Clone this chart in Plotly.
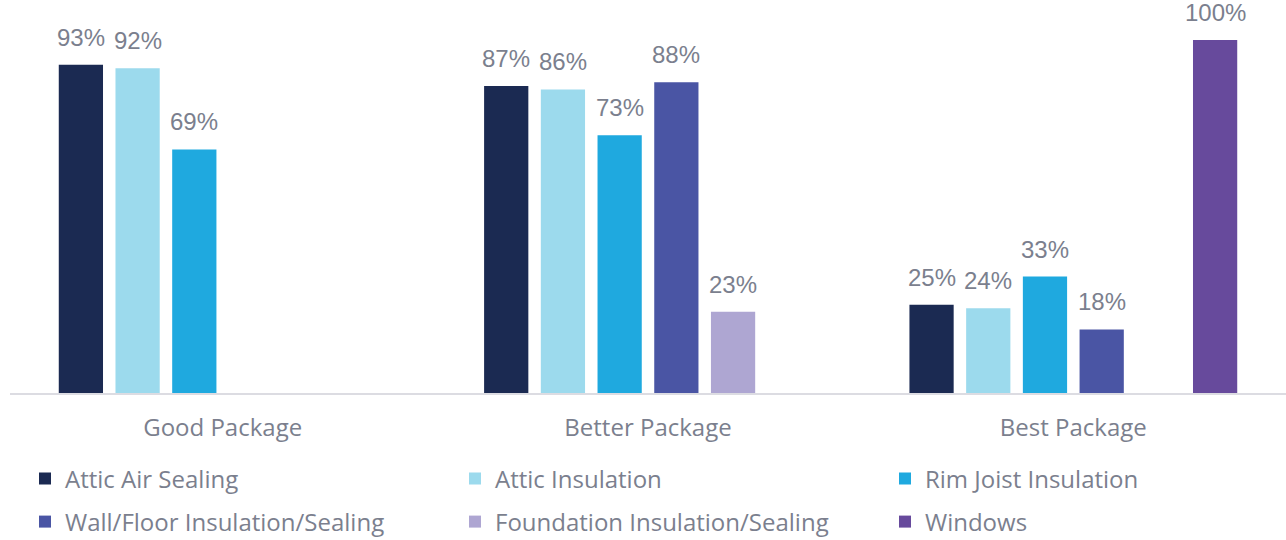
import plotly.graph_objects as go

categories = ["Good Package", "Better Package", "Best Package"]
series_names = ["Attic Air Sealing", "Attic Insulation", "Rim Joist Insulation",
                "Wall/Floor Insulation/Sealing", "Foundation Insulation/Sealing", "Windows"]
attic_air_sealing = [93, 87, 25]
attic_insulation = [92, 86, 24]
rim_joist_insulation = [69, 73, 33]
wall_floor_insulation = [None, 88, 18]
foundation_insulation = [None, 23, None]
windows = [None, None, 100]
series_values = [attic_air_sealing, attic_insulation, rim_joist_insulation,
                 wall_floor_insulation, foundation_insulation, windows]
colors = ["#1b2a52", "#9cdaed", "#1fa9df", "#4a55a4", "#aea6d2", "#674a9c"]

W, H = 1286, 540
ML, MR, MT, MB = 10, 0, 40, 147
BARGAP = 0.2
TEXT_COLOR = "#7b7f8e"
label_font = "Liberation Sans, Arial, sans-serif"
cat_font = "Open Sans, sans-serif"

# legend layout: 3 columns x 2 rows
LEG_X0, LEG_DX = 25, 430
LEG_ROWS_Y = [479, 522]

fig = go.Figure()
layout_legends = {}
for i, (name, vals) in enumerate(zip(series_names, series_values)):
    leg_key = "legend" if i == 0 else f"legend{i + 1}"
    fig.add_trace(go.Bar(
        x=categories, y=vals, name=name,
        marker=dict(color=colors[i], line=dict(width=0)),
        legend=leg_key,
        hoverinfo="skip",
    ))
    col, row = i % 3, i // 3
    layout_legends[leg_key] = dict(
        orientation="h", xref="container", yref="container",
        xanchor="left", yanchor="middle",
        x=(LEG_X0 + col * LEG_DX) / W, y=1 - LEG_ROWS_Y[row] / H,
        font=dict(family=cat_font, size=24, color=TEXT_COLOR),
        bgcolor="rgba(0,0,0,0)",
    )

plot_w = W - ML - MR
slot_px = plot_w / len(categories) * (1 - BARGAP) / len(series_names)
annotations = []
for i, vals in enumerate(series_values):
    for j, v in enumerate(vals):
        if v is None:
            continue
        annotations.append(dict(
            x=categories[j], y=v, xref="x", yref="y",
            text=f"{v}%", showarrow=False, yanchor="bottom",
            xshift=(i - (len(series_names) - 1) / 2) * slot_px, yshift=12,
            font=dict(family=label_font, size=24, color=TEXT_COLOR),
        ))

fig.update_layout(
    width=W, height=H,
    margin=dict(l=ML, r=MR, t=MT, b=MB, autoexpand=False),
    barmode="group", bargap=BARGAP, bargroupgap=0.22,
    plot_bgcolor="white", paper_bgcolor="white",
    showlegend=True,
    annotations=annotations,
    xaxis=dict(showline=True, linecolor="#dcdce2", linewidth=2,
               ticks="outside", ticklen=12, tickcolor="rgba(0,0,0,0)",
               tickfont=dict(family=cat_font, size=24, color=TEXT_COLOR),
               showgrid=False, fixedrange=True),
    yaxis=dict(range=[0, 100], visible=False, showgrid=False, fixedrange=True),
    **layout_legends,
)

fig.write_html("out.html", config={"displayModeBar": False})
